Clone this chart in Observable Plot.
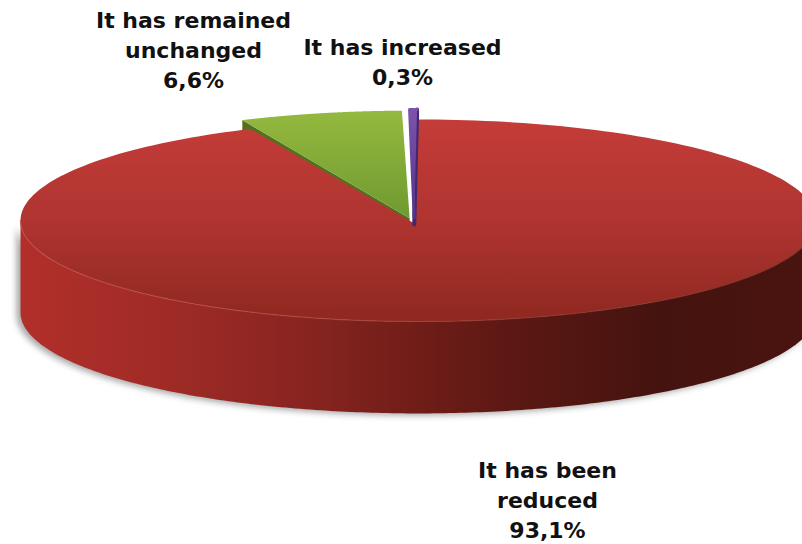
<!DOCTYPE html>
<html>
<head>
<meta charset="utf-8">
<script src="https://cdn.jsdelivr.net/npm/d3@7"></script>
<script src="https://cdn.jsdelivr.net/npm/@observablehq/plot@0.6"></script>
<style>
  html, body { margin: 0; padding: 0; background: #fff; overflow: hidden; }
  svg { display: block; }
</style>
</head>
<body>
<div id="chart"></div>
<script>
// Survey answers, clockwise from just left of twelve o'clock.
const categories = ["It has increased", "It has been reduced", "It has remained unchanged"];
const labelLines = ["It has increased", "It has been\nreduced", "It has remained\nunchanged"];
const shares = [0.3, 93.1, 6.6];

// Pie styling and tilt, in units of the disc radius.
const pieWidth = 802, pieHeight = 544;
const radiusX = 398, radiusY = 101, centreX = 418, centreY = 220;
const depth = 0.91;
const rotation = -1.22;
const explode = [0.1, 0, 0.09];
const apex = {u: -0.01, v: -0.03};
const topFills = ["url(#topPurple)", "url(#topRed)", "url(#topGreen)"];
const wallFills = ["#432870", "url(#wallRed)", "#566f1e"];

const rad = d => d * Math.PI / 180;
let running = rotation;
const slices = categories.map((name, i) => {
  const start = running;
  const end = running + shares[i] * 3.6;
  running = end;
  const mid = rad((start + end) / 2);
  return {name, i, start, end, ox: explode[i] * Math.sin(mid), oy: explode[i] * Math.cos(mid)};
});

const arc = (from, to, steps = 240) =>
  d3.range(steps + 1).map(k => from + (to - from) * k / steps);

// Pulled-out slices keep their point a little closer to the centre than their rim.
const tip = s => ({slice: s.name, u: apex.u + s.ox * 0.6, v: apex.v + s.oy * 0.6});

// Top face of a slice: centre point plus its rim.
const topFace = s => [
  tip(s),
  ...arc(s.start, s.end).map(a => ({slice: s.name, u: s.ox + Math.sin(rad(a)), v: s.oy + Math.cos(rad(a))}))
];

// Outer wall between two angles, extruded downward.
const wallFace = (s, from, to) => {
  const rim = arc(from, to).map(a => [s.ox + Math.sin(rad(a)), s.oy + Math.cos(rad(a))]);
  return [
    ...rim.map(([u, v]) => ({slice: s.name, u, v})),
    ...rim.reverse().map(([u, v]) => ({slice: s.name, u, v: v - depth}))
  ];
};

// Cut face running from a slice's point to one rim angle, extruded downward.
const cutFace = (s, a, drop = depth) => {
  const t = tip(s);
  const u = s.ox + Math.sin(rad(a)), v = s.oy + Math.cos(rad(a));
  return [
    t, {slice: s.name, u, v},
    {slice: s.name, u, v: v - drop}, {slice: s.name, u: t.u, v: t.v - drop}
  ];
};

const [increased, reduced, unchanged] = slices;
const frontWall = wallFace(reduced, 90, 270);
const frontRim = arc(90, 270).map(a => ({u: Math.sin(rad(a)), v: Math.cos(rad(a))}));

const percent = v => v.toFixed(1).replace(".", ",") + "%";
const labelText = i => labelLines[i] + "\n" + percent(shares[i]);

// Gradients shared by the faces of the pie.
const gradient = (defs, id, vertical, stops) => {
  const g = defs.append("linearGradient").attr("id", id)
    .attr("x1", 0).attr("y1", 0).attr("x2", vertical ? 0 : 1).attr("y2", vertical ? 1 : 0);
  stops.forEach(([o, c]) => g.append("stop").attr("offset", o).attr("stop-color", c));
};
const gradients = () => {
  const defs = d3.create("svg:defs");
  gradient(defs, "topRed", true, [[0, "#c43c38"], [0.5, "#b03430"], [1, "#8e2820"]]);
  gradient(defs, "topGreen", true, [[0, "#95b93f"], [1, "#6f9a30"]]);
  gradient(defs, "topPurple", true, [[0, "#7d52ab"], [1, "#54348a"]]);
  gradient(defs, "wallRed", false, [[0, "#b22f2a"], [0.18, "#a02b26"], [0.36, "#882420"], [0.5, "#701d18"], [0.62, "#5c1813"], [0.8, "#45130f"], [1, "#4a1410"]]);
  gradient(defs, "rimRed", false, [[0, "#c04e44"], [0.4, "#b0463c"], [0.6, "#8f3a30"], [1, "#7a2e26"]]);
  return defs.node();
};

const labelStyle = {
  fontFamily: "DejaVu Sans, Verdana, sans-serif",
  fontWeight: "bold",
  fontSize: 22,
  lineHeight: 1.37,
  fill: "#111",
  stroke: "none",
  textAnchor: "middle",
  lineAnchor: "top",
  frameAnchor: "top-left"
};

const chart = Plot.plot({
  width: pieWidth,
  height: pieHeight,
  margin: 0,
  x: {axis: null, domain: [-centreX / radiusX, (pieWidth - centreX) / radiusX], range: [0, pieWidth]},
  y: {axis: null, domain: [(centreY - pieHeight) / radiusY, centreY / radiusY], range: [pieHeight, 0]},
  marks: [
    gradients,
    // soft shadow under the disc
    Plot.line(frontWall, {x: "u", y: "v", fill: "#8a8a8a", stroke: "none", dx: -4, dy: 2, imageFilter: "blur(3px)", opacity: 0.75}),
    Plot.line(frontWall, {x: "u", y: "v", fill: wallFills[1], stroke: "none"}),
    // the green slice shows its cut face through the notch in the disc
    Plot.line(cutFace(unchanged, unchanged.start), {x: "u", y: "v", fill: wallFills[2], stroke: "none"}),
    Plot.line(topFace(unchanged), {x: "u", y: "v", fill: topFills[2], stroke: "none"}),
    Plot.line(topFace(reduced), {x: "u", y: "v", fill: topFills[1], stroke: "none"}),
    Plot.line(frontRim, {x: "u", y: "v", stroke: "url(#rimRed)", strokeWidth: 1.2, strokeOpacity: 0.8}),
    // the thin purple slice sits on top, with a short visible drop below its point
    Plot.line(cutFace(increased, increased.end, 0.07), {x: "u", y: "v", fill: wallFills[0], stroke: wallFills[0], strokeWidth: 4}),
    Plot.line(topFace(increased), {x: "u", y: "v", fill: topFills[0], stroke: topFills[0], strokeWidth: 3}),
    Plot.text([labelText(2)], {...labelStyle, dx: 193, dy: 6}),
    Plot.text([labelText(0)], {...labelStyle, dx: 402, dy: 33}),
    Plot.text([labelText(1)], {...labelStyle, dx: 547, dy: 456})
  ]
});
document.getElementById("chart").append(chart);
</script>
</body>
</html>
